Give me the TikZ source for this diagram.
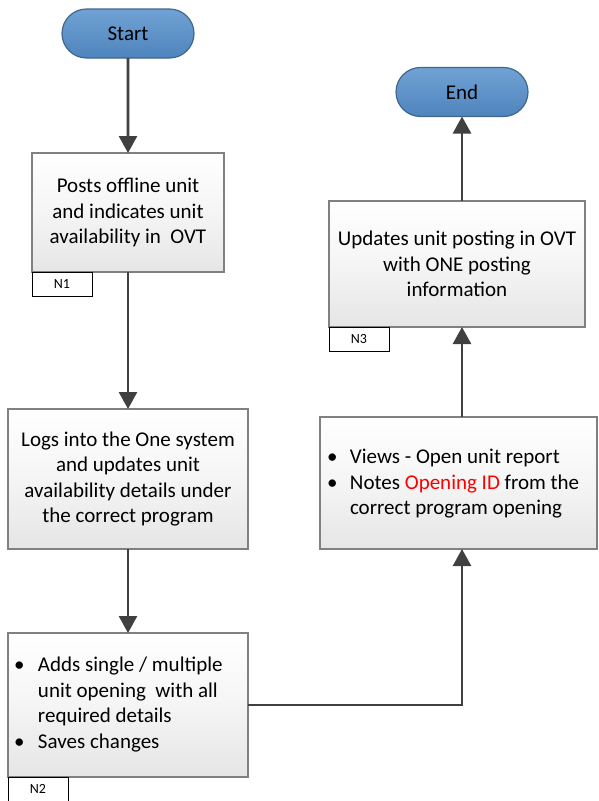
\documentclass[tikz,border=0pt]{standalone}
\usepackage{fontspec}
\setmainfont{Carlito}
\usetikzlibrary{shapes.misc,arrows.meta}
\definecolor{termtop}{HTML}{71A2D4}
\definecolor{termbot}{HTML}{4E84BD}
\definecolor{termline}{HTML}{41668E}
\definecolor{boxline}{HTML}{808080}
\definecolor{flow}{HTML}{404040}
\definecolor{accent}{HTML}{FF0000}
\begin{document}
\begin{tikzpicture}[x=1pt,y=-1pt,
  every node/.style={font=\fontsize{21}{25.5}\selectfont, inner sep=0pt, outer sep=0pt},
  term/.style={rounded rectangle, draw=termline, line width=1.2pt,
    top color=termtop, bottom color=termbot, minimum width=132pt, minimum height=49pt},
  procbox/.style={rectangle, draw=boxline, line width=1.4pt,
    top color=white, bottom color=black!10, middle color=white!96!black, align=center},
  tagbox/.style={rectangle, draw=black, line width=0.8pt, fill=white,
    minimum width=60pt, minimum height=24pt, anchor=north west,
    font=\fontsize{14}{16}\selectfont},
  arr/.style={draw=flow, line width=2.6pt, -{Triangle[width=18pt,length=17pt]}}
]
\useasboundingbox (0,0) rectangle (598,801);

% terminals
\node[term] (start) at (128,33.5) {Start};
\node[term] (end) at (462,92) {End};

% process boxes
\node[procbox, minimum width=192pt, minimum height=119pt] (n1) at (128,212.5)
  {Posts offline unit\\and indicates unit\\availability in\ \ OVT};
\node[tagbox] (t1) at (n1.south west) {N1};

\node[procbox, minimum width=240pt, minimum height=140pt] (n2) at (128,479)
  {Logs into the One system\\and updates unit\\availability details under\\the correct program};

\node[procbox, minimum width=240pt, minimum height=144pt] (n3) at (128,705) {};
\node[anchor=west] (n3txt) at (14,705) {%
  \begin{tabular}{@{}p{24pt}@{}l@{}}
  \textbullet & Adds single / multiple\\
  & unit opening\ \ with all\\
  & required details\\
  \textbullet & Saves changes
  \end{tabular}};
\node[tagbox] (t2) at (n3.south west) {N2};

\node[procbox, minimum width=277pt, minimum height=132pt] (n4) at (458.5,483) {};
\node[anchor=west] (n4txt) at (327,484) {%
  \begin{tabular}{@{}p{23pt}@{}l@{}}
  \textbullet & Views - Open unit report\\
  \textbullet & Notes \textcolor{accent}{Opening ID} from the\\
  & correct program opening
  \end{tabular}};

\node[procbox, minimum width=256pt, minimum height=126pt] (n5) at (457,264)
  {Updates unit posting in OVT\\with ONE posting\\information};
\node[tagbox] (t3) at (n5.south west) {N3};

% connectors
\draw[arr] (start) -- (n1);
\draw[arr] (n1) -- (n2);
\draw[arr] (n2) -- (n3);
\draw[arr] (n3.east) -| ([xshift=3.5pt]n4.south);
\draw[arr] ([xshift=3.5pt]n4.north) -- ([xshift=5pt]n5.south);
\draw[arr] ([xshift=5pt]n5.north) -- (end);
\end{tikzpicture}
\end{document}
